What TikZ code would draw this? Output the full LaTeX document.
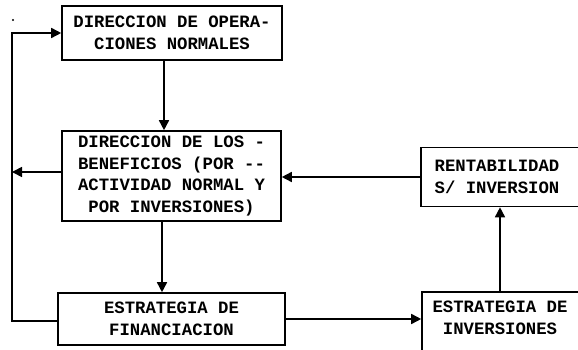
\documentclass[tikz,border=0pt]{standalone}
\usepackage{fontspec}
\newfontfamily\twfont{Liberation Mono}
\usetikzlibrary{arrows.meta}
\tikzset{
  frame/.style={draw, line width=1.6pt, inner sep=0pt},
  txt/.style={font=\twfont\bfseries\fontsize{17.3}{21.7}\selectfont, align=center, inner sep=0pt},
  conn/.style={line width=1.6pt},
  arr/.style={conn, -{Triangle[length=10pt,width=10pt]}}
}
\begin{document}
\begin{tikzpicture}[x=1pt,y=-1pt]
\useasboundingbox (0,0) rectangle (578,350);
% boxes
\node[frame, txt, minimum width=220pt, minimum height=54pt] (b1) at (172,33) {DIRECCION DE OPERA-\\CIONES NORMALES};
\node[frame, txt, minimum width=219pt, minimum height=90pt] (b2) at (171.5,176) {DIRECCION DE LOS -\\BENEFICIOS (POR --\\ACTIVIDAD NORMAL Y\\POR INVERSIONES)};
\node[frame, txt, minimum width=227pt, minimum height=52pt] (b3) at (171.5,319) {ESTRATEGIA DE\\FINANCIACION};
\node[frame, minimum width=169pt, minimum height=59pt] (b5) at (505.5,177) {};
\node[txt] (b5t) at (497,177) {RENTABILIDAD\\S/ INVERSION};
\node[frame, minimum width=168pt, minimum height=68pt] (b4) at (506,326) {};
\node[txt] (b4t) at (500,318) {ESTRATEGIA DE\\INVERSIONES};
% stray dot
\fill (13,20) circle (1.2pt);
% left loop
\coordinate (lt) at (12,33);
\coordinate (lm) at (12,172);
\coordinate (lb) at (12,321);
\draw[arr] (b3.west |- lb) -- (lb) -- (lt) -- (b1.west);
\draw[arr] (b2.west |- lm) -- (lm);
% vertical flow
\draw[arr] ([xshift=-8pt]b1.south) -- ([xshift=-8pt]b1.south |- b2.north);
\draw[arr] ([xshift=-9.5pt]b2.south) -- ([xshift=-9.5pt]b2.south |- b3.north);
% right side
\draw[arr] (b3.east) -- (b3.east -| b4.west);
\draw[arr] (b4.north -| b4t) -- (b5.south -| b4t);
\draw[arr] (b5.west) -- (b5.west -| b2.east);
\end{tikzpicture}
\end{document}
